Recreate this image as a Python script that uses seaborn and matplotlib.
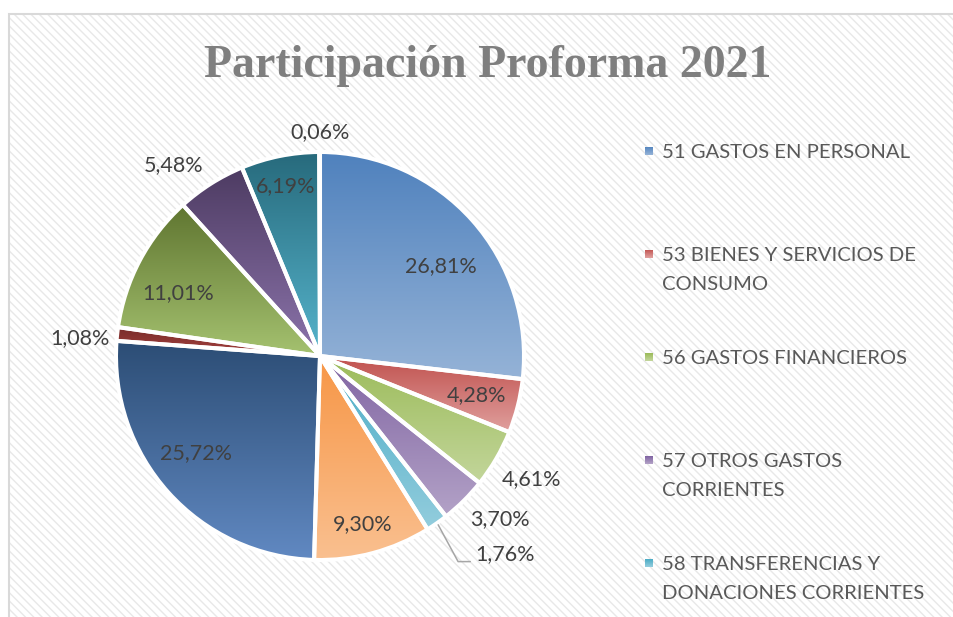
import numpy as np
import matplotlib.pyplot as plt
import seaborn as sns
from matplotlib.patches import Rectangle
from matplotlib.colors import to_rgb

# Participación Proforma 2021, grupos de gasto (orden de la serie)
groups = ['51 GASTOS EN PERSONAL', '53 BIENES Y SERVICIOS DE CONSUMO', '56 GASTOS FINANCIEROS',
          '57 OTROS GASTOS CORRIENTES', '58 TRANSFERENCIAS Y DONACIONES CORRIENTES',
          '71 GASTOS EN PERSONAL PARA INVERSIÓN', '73 BIENES Y SERVICIOS PARA INVERSIÓN',
          '75 OBRAS PÚBLICAS', '77 OTROS GASTOS DE INVERSIÓN', '78 TRANSFERENCIAS PARA INVERSIÓN',
          '84 BIENES DE LARGA DURACIÓN', '96 AMORTIZACIÓN DE LA DEUDA PÚBLICA']
shares = [26.81, 4.28, 4.61, 3.70, 1.76, 9.30, 25.72, 1.08, 11.01, 5.48, 6.19, 0.06]
# only the first five appear in the (cut off) legend
legend_labels = ['51 GASTOS EN PERSONAL', '53 BIENES Y SERVICIOS DE\nCONSUMO', '56 GASTOS FINANCIEROS',
                 '57 OTROS GASTOS\nCORRIENTES', '58 TRANSFERENCIAS Y\nDONACIONES CORRIENTES']

# gradient colours per slice (top -> bottom), office style
top_colors = ['#4f81bd', '#c0504d', '#9bbb59', '#8064a2', '#4bacc6', '#f79646',
              '#2c4d75', '#772c2a', '#5f7530', '#4d3b62', '#276a7c', '#b65708']
bottom_colors = ['#95b3d7', '#e0a09e', '#c3d69b', '#b3a2c7', '#93cddd', '#fac090',
                 '#6189c2', '#a84340', '#a5c270', '#8c74ab', '#56b4cc', '#f79646']

# label placement: radius factor and angle nudge (deg)
label_r = [0.74, 0.79, 1.20, 1.19, 1.33, 0.85, 0.77, 1.18, 0.76, 1.18, 0.85, 1.10]
label_dang = [-5, 0, 0, 3, 8, -1, -4, 2, 4, 5, 0, 0]

sns.set_theme(style='white')
plt.rcParams['font.family'] = ['Lato', 'DejaVu Sans']
plt.rcParams['hatch.linewidth'] = 1.0

W, H = 954, 617
fig = plt.figure(figsize=(W / 100, H / 100), dpi=100)
fig.patch.set_facecolor('white')

# chart area frame with diagonal stripes
bg = Rectangle((9 / W, 0 - 0.05), 1.0, 1 - 14 / H + 0.05, transform=fig.transFigure,
               facecolor='white', edgecolor='#e8e8e8', hatch='\\\\\\\\', lw=1.2, zorder=-2)
fig.patches.append(bg)
bg_edge = Rectangle((9 / W, 0 - 0.05), 1.0, 1 - 14 / H + 0.05, transform=fig.transFigure,
                    facecolor='none', edgecolor='#d9d9d9', lw=1.5, zorder=-1)
fig.patches.append(bg_edge)

# pie axes: centre (320, 356) px, radius 204 px
cx, cy, R = 320, 356, 204
lim = 1.45
side = 2 * lim * R
ax = fig.add_axes([(cx - lim * R) / W, (H - cy - lim * R) / H, side / W, side / H])
ax.set_facecolor('none')
ax.axis('off')

wedges, _ = ax.pie(shares, startangle=90, counterclock=False, radius=1.0,
                   colors=top_colors,
                   wedgeprops=dict(edgecolor='white', linewidth=2.9))

for i, w in enumerate(wedges):
    ext = w.get_path().get_extents()
    c0 = np.array(to_rgb(top_colors[i]))
    c1 = np.array(to_rgb(bottom_colors[i]))
    t = np.linspace(0, 1, 256)[:, None, None]
    grad = c0 + (c1 - c0) * t
    im = ax.imshow(grad, extent=(ext.x0, ext.x1, ext.y0, ext.y1), origin='upper',
                   aspect='auto', zorder=1, interpolation='bilinear')
    im.set_clip_path(w)
    w.set_facecolor('none')
    w.set_zorder(2)

ax.set_xlim(-lim, lim)
ax.set_ylim(-lim, lim)

# data labels
for i, w in enumerate(wedges):
    mid = np.deg2rad((w.theta1 + w.theta2) / 2 + label_dang[i])
    tx, ty = label_r[i] * np.cos(mid), label_r[i] * np.sin(mid)
    txt = f'{shares[i]:.2f}'.replace('.', ',') + '%'
    ax.text(tx, ty, txt, ha='center', va='center', fontsize=15.5, color='#404040', zorder=3)
    if label_r[i] > 1.3:
        a0 = np.deg2rad((w.theta1 + w.theta2) / 2)
        sx, sy = 1.01 * np.cos(a0), 1.01 * np.sin(a0)
        ex, ey = tx - 0.17, ty - 0.035
        ax.plot([sx, ex - 0.06, ex], [sy, ey, ey], color='#a6a6a6', lw=1.1, zorder=3,
                clip_on=False)

# title
fig.text(488 / W, 1 - 77 / H, 'Participación Proforma 2021', ha='center', va='baseline',
         fontsize=33, fontweight='bold', color='#7f7f7f', family='Liberation Serif')

# legend (drawn by hand, as in the cut-off original)
for k, lab in enumerate(legend_labels):
    yc = 151 + 103 * k
    sq = 8
    x0 = 645
    grad = np.array(to_rgb(top_colors[k])) + (np.array(to_rgb(bottom_colors[k])) - np.array(to_rgb(top_colors[k]))) * np.linspace(0, 1, 16)[:, None, None]
    lax = fig.add_axes([x0 / W, (H - yc - sq / 2) / H, sq / W, sq / H])
    lax.imshow(grad, aspect='auto')
    lax.axis('off')
    fig.text(662 / W, 1 - (yc - 7) / H, lab, ha='left', va='top', fontsize=14.6,
             color='#595959', linespacing=1.86)

fig.savefig('out.png', dpi=100)
